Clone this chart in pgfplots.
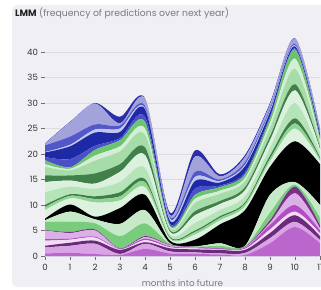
\documentclass[border=0pt]{standalone}
\usepackage{fontspec}
\setmainfont{Poppins}
\usepackage{pgfplots}
\usepackage{pgfplotstable}
\pgfplotsset{compat=1.18}
\definecolor{panel}{HTML}{F0EFF4}
\definecolor{titledark}{HTML}{222222}
\definecolor{titlegrey}{HTML}{7A7A80}
\definecolor{gridc}{HTML}{DCDBE2}
\definecolor{tickc}{HTML}{333333}
% purples
\definecolor{P1c}{HTML}{BB66CC}
\definecolor{P2c}{HTML}{D9A3E5}
\definecolor{P3c}{HTML}{6B2A7B}
\definecolor{P4c}{HTML}{F2DDF5}
\definecolor{P5c}{HTML}{B24DC4}
\definecolor{P6c}{HTML}{DBB0E7}
\definecolor{P7c}{HTML}{7A3089}
% greens
\definecolor{G1c}{HTML}{78CC7C}
\definecolor{G2c}{HTML}{C6EAC8}
\definecolor{Kc}{HTML}{000000}
\definecolor{G3c}{HTML}{DCF2DE}
\definecolor{G4c}{HTML}{8FD492}
\definecolor{G5c}{HTML}{3F7E47}
\definecolor{G6c}{HTML}{B5E4B8}
\definecolor{G7c}{HTML}{DBF1DD}
\definecolor{G8c}{HTML}{41804A}
\definecolor{G9c}{HTML}{A5DCA8}
\definecolor{G10c}{HTML}{D4EED6}
\definecolor{G11c}{HTML}{6CC470}
% blues
\definecolor{B1c}{HTML}{4B50C6}
\definecolor{B2c}{HTML}{1E29A6}
\definecolor{B3c}{HTML}{C5C6EC}
\definecolor{B4c}{HTML}{5258C9}
\definecolor{B5c}{HTML}{A3A3DC}
\definecolor{B6c}{HTML}{2A2FA8}

\pgfplotstableread{
x  P1  P2  P3  P4  P5  P6  P7  G1   G2   K   G3  G4  G5  G6  G7  G8  G9  G10 G11 B1  B2  B3  B4  B5  B6
0  0.5 1.2 0.3 1.0 0.3 1.7 0.1 1.6  0.3  0.3 1.7 0.6 0.4 2.5 2.0 1.3 1.7 0.5 0.8 0.6 0.9 0.1 1.3 0.3 0.1
1  0.6 1.4 0.6 0.6 0.2 1.1 0.2 2.0  2.0  1.4 1.2 0.5 0.3 1.5 1.2 1.0 1.0 0.3 0.3 1.6 2.5 0.3 1.6 2.8 0.1
2  0.4 2.0 0.6 0.6 0.2 1.2 0.2 1.2  0.8  0.5 2.8 0.7 0.5 1.5 1.0 2.0 2.5 1.0 1.1 0.8 2.6 0.6 1.0 4.1 0.1
3  0.2 0.2 0.8 0.1 0.1 0.0 0.1 2.4  2.4  3.1 1.5 0.8 0.8 2.0 2.0 1.5 2.5 1.0 1.2 0.4 1.2 0.7 0.6 0.4 1.3
4  1.4 1.0 0.3 0.4 0.3 0.3 0.2 2.5  2.6  3.0 1.5 1.0 0.6 2.2 2.5 1.5 2.5 1.2 1.3 1.0 1.5 0.2 0.4 1.4 0.1
5  0.5 0.4 0.6 0.2 0.2 0.2 0.1 0.15 0.15 0.5 0.3 0.2 0.2 0.5 0.5 0.3 0.5 0.2 0.3 0.3 0.6 0.4 0.3 0.4 0.5
6  0.4 0.3 0.6 0.2 0.1 0.1 0.1 0.05 0.05 1.3 1.0 0.5 0.3 1.5 1.5 0.8 1.6 0.8 0.8 1.2 1.5 0.8 1.0 3.0 1.2
7  0.3 0.2 0.7 0.1 0.1 0.0 0.1 0.5  0.5  3.7 0.8 0.5 0.3 1.2 1.2 0.6 1.4 0.6 0.7 0.3 0.6 0.3 0.3 0.6 0.4
8  0.2 0.4 0.6 0.2 0.2 0.1 0.1 0.1  0.1  7.0 0.7 0.5 0.3 1.2 1.2 0.6 1.2 0.6 0.7 0.4 1.2 0.3 0.5 1.0 0.4
9  2.5 1.0 1.0 0.7 0.9 0.4 0.5 1.5  3.5  5.5 1.0 0.6 0.6 1.5 1.5 0.8 1.6 1.0 0.9 0.4 0.8 0.3 0.4 0.8 0.3
10 5.7 1.0 1.3 0.7 1.3 2.3 1.3 0.4  0.5  8.0 2.5 1.0 1.0 3.0 2.5 1.2 3.0 2.0 1.8 0.2 0.4 0.2 0.3 1.0 0.1
11 2.5 0.6 0.8 0.5 0.6 0.4 0.6 1.5  2.5  8.0 0.6 0.4 0.3 0.8 0.8 0.4 0.9 0.4 0.4 0.3 0.6 0.2 0.3 0.4 0.2
}\data

\begin{document}
\begin{tikzpicture}[x=1pt,y=1pt]
\fill[panel, rounded corners=5pt] (12,2) rectangle (345,284);
\node[anchor=west, inner sep=0pt] at (15,276) {\fontsize{9.3}{10}\selectfont\textcolor{titledark}{\textbf{LMM}} \textcolor{titlegrey}{(frequency of predictions over next year)}};
\begin{axis}[
  at={(45pt,33pt)}, anchor=south west,
  scale only axis, width=275pt, height=229.5pt,
  xmin=0, xmax=11, ymin=0, ymax=45,
  stack plots=y,
  axis x line*=bottom, axis y line*=left,
  x axis line style={draw=gridc, line width=0.6pt, -},
  y axis line style={draw=none},
  xtick={0,...,11}, ytick={0,5,...,40},
  tick align=outside, major tick length=3.5pt,
  tick style={draw=tickc!70, line width=0.5pt},
  ymajorgrids, grid style={draw=gridc, line width=0.6pt},
  /pgf/number format/assume math mode=true,
  ticklabel style={font=\fontsize{8.6}{10}\selectfont, text=tickc},
  xticklabel style={yshift=-1pt},
  xlabel={months into future},
  xlabel style={font=\fontsize{8.8}{10}\selectfont, text=titlegrey, at={(axis description cs:0.5,0)}, anchor=center, yshift=-27pt},
  every axis plot/.append style={draw=none, smooth, tension=0.5},
]
\addplot[fill=P1c] table[x=x,y=P1]{\data} \closedcycle;
\addplot[fill=P2c] table[x=x,y=P2]{\data} \closedcycle;
\addplot[fill=P3c] table[x=x,y=P3]{\data} \closedcycle;
\addplot[fill=P4c] table[x=x,y=P4]{\data} \closedcycle;
\addplot[fill=P5c] table[x=x,y=P5]{\data} \closedcycle;
\addplot[fill=P6c] table[x=x,y=P6]{\data} \closedcycle;
\addplot[fill=P7c] table[x=x,y=P7]{\data} \closedcycle;
\addplot[fill=G1c] table[x=x,y=G1]{\data} \closedcycle;
\addplot[fill=G2c] table[x=x,y=G2]{\data} \closedcycle;
\addplot[fill=Kc] table[x=x,y=K]{\data} \closedcycle;
\addplot[fill=G3c] table[x=x,y=G3]{\data} \closedcycle;
\addplot[fill=G4c] table[x=x,y=G4]{\data} \closedcycle;
\addplot[fill=G5c] table[x=x,y=G5]{\data} \closedcycle;
\addplot[fill=G6c] table[x=x,y=G6]{\data} \closedcycle;
\addplot[fill=G7c] table[x=x,y=G7]{\data} \closedcycle;
\addplot[fill=G8c] table[x=x,y=G8]{\data} \closedcycle;
\addplot[fill=G9c] table[x=x,y=G9]{\data} \closedcycle;
\addplot[fill=G10c] table[x=x,y=G10]{\data} \closedcycle;
\addplot[fill=G11c] table[x=x,y=G11]{\data} \closedcycle;
\addplot[fill=B1c] table[x=x,y=B1]{\data} \closedcycle;
\addplot[fill=B2c] table[x=x,y=B2]{\data} \closedcycle;
\addplot[fill=B3c] table[x=x,y=B3]{\data} \closedcycle;
\addplot[fill=B4c] table[x=x,y=B4]{\data} \closedcycle;
\addplot[fill=B5c] table[x=x,y=B5]{\data} \closedcycle;
\addplot[fill=B6c] table[x=x,y=B6]{\data} \closedcycle;
\end{axis}
\pgfresetboundingbox
\path[use as bounding box] (0,0) rectangle (321,289);
\end{tikzpicture}
\end{document}
